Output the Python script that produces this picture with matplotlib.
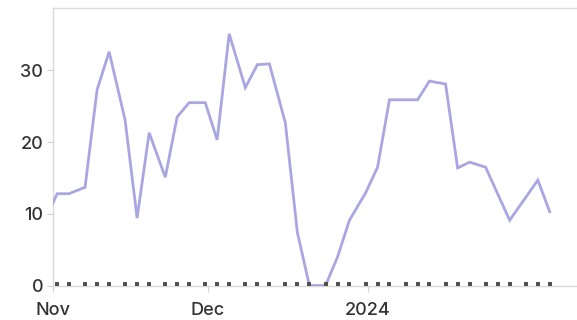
import numpy as np
import pandas as pd
import matplotlib
matplotlib.use("Agg")
import matplotlib.pyplot as plt

plt.rcParams['font.family'] = ['Inter', 'DejaVu Sans']

# sample dates and values
dates = pd.to_datetime([
    '2023-10-30 11:00', '2023-11-01 19:00', '2023-11-04 02:00',
    '2023-11-07 05:00', '2023-11-09 13:00', '2023-11-11 21:00',
    '2023-11-14 23:00', '2023-11-17 07:00', '2023-11-19 15:00',
    '2023-11-22 18:00', '2023-11-25 01:00', '2023-11-27 09:00',
    '2023-11-30 12:00', '2023-12-02 19:00', '2023-12-05 03:00',
    '2023-12-08 06:00', '2023-12-10 14:00', '2023-12-12 22:00',
    '2023-12-16 00:00', '2023-12-18 08:00', '2023-12-20 16:00',
    '2023-12-23 19:00', '2023-12-26 03:00', '2023-12-28 10:00',
    '2023-12-31 13:00', '2024-01-02 21:00', '2024-01-05 04:00',
    '2024-01-08 07:00', '2024-01-10 15:00', '2024-01-12 22:00',
    '2024-01-16 01:00', '2024-01-18 09:00', '2024-01-20 17:00',
    '2024-01-23 19:00', '2024-01-26 03:00', '2024-01-28 11:00',
    '2024-01-31 14:00', '2024-02-02 22:00', '2024-02-05 05:00',
])
values = [
    9.0, 12.8, 12.8,
    13.7, 27.3, 32.6,
    23.1, 9.4, 21.3,
    15.1, 23.5, 25.5,
    25.5, 20.3, 35.1,
    27.6, 30.8, 30.9,
    22.7, 7.4, 0.0,
    0.0, 4.0, 9.1,
    12.9, 16.5, 25.9,
    25.9, 25.9, 28.5,
    28.1, 16.4, 17.2,
    16.5, 12.8, 9.1,
    12.3, 14.7, 10.3,
]
baseline = [0] * len(dates)
yticks = [0, 10, 20, 30]
xticks = ['2023-11-01', '2023-12-01', '2024-01-01']
xlabels = ['Nov', 'Dec', '2024']

x_start = pd.Timestamp('2023-11-01')
x_end = x_start + pd.Timedelta(days=101.5)

fig = plt.figure(figsize=(5.77, 3.2), dpi=100)
ax = fig.add_axes([53 / 577, 1 - 285.5 / 320, 1 - 53 / 577, (285.5 - 8) / 320])

ax.plot(dates, values, color='#a9a6e2', lw=2.0, solid_joinstyle='miter', zorder=3)

# dark marks along zero, only those inside the x range
inside = dates >= x_start
ax.scatter(dates[inside], np.array(baseline)[inside] + 0.2, marker='s', s=10,
           color='#505050', lw=0, zorder=4, clip_on=False)

ax.set_xlim(x_start, x_end)
ax.set_ylim(0, 38.7)

ax.set_xticks(pd.to_datetime(xticks))
ax.set_xticklabels(xlabels)
ax.set_yticks(yticks)

for s in ['left', 'bottom', 'top']:
    ax.spines[s].set_color('#d9d9d9')
    ax.spines[s].set_linewidth(1.0)
ax.spines['right'].set_visible(False)

ax.tick_params(axis='both', colors='#d0d0d0', labelcolor='#333333',
               labelsize=13, length=4, width=0.8)
ax.tick_params(axis='x', pad=8)
ax.tick_params(axis='y', pad=3)
for lab in ax.get_xticklabels() + ax.get_yticklabels():
    lab.set_fontweight('medium')

fig.savefig('out.png', dpi=100)
